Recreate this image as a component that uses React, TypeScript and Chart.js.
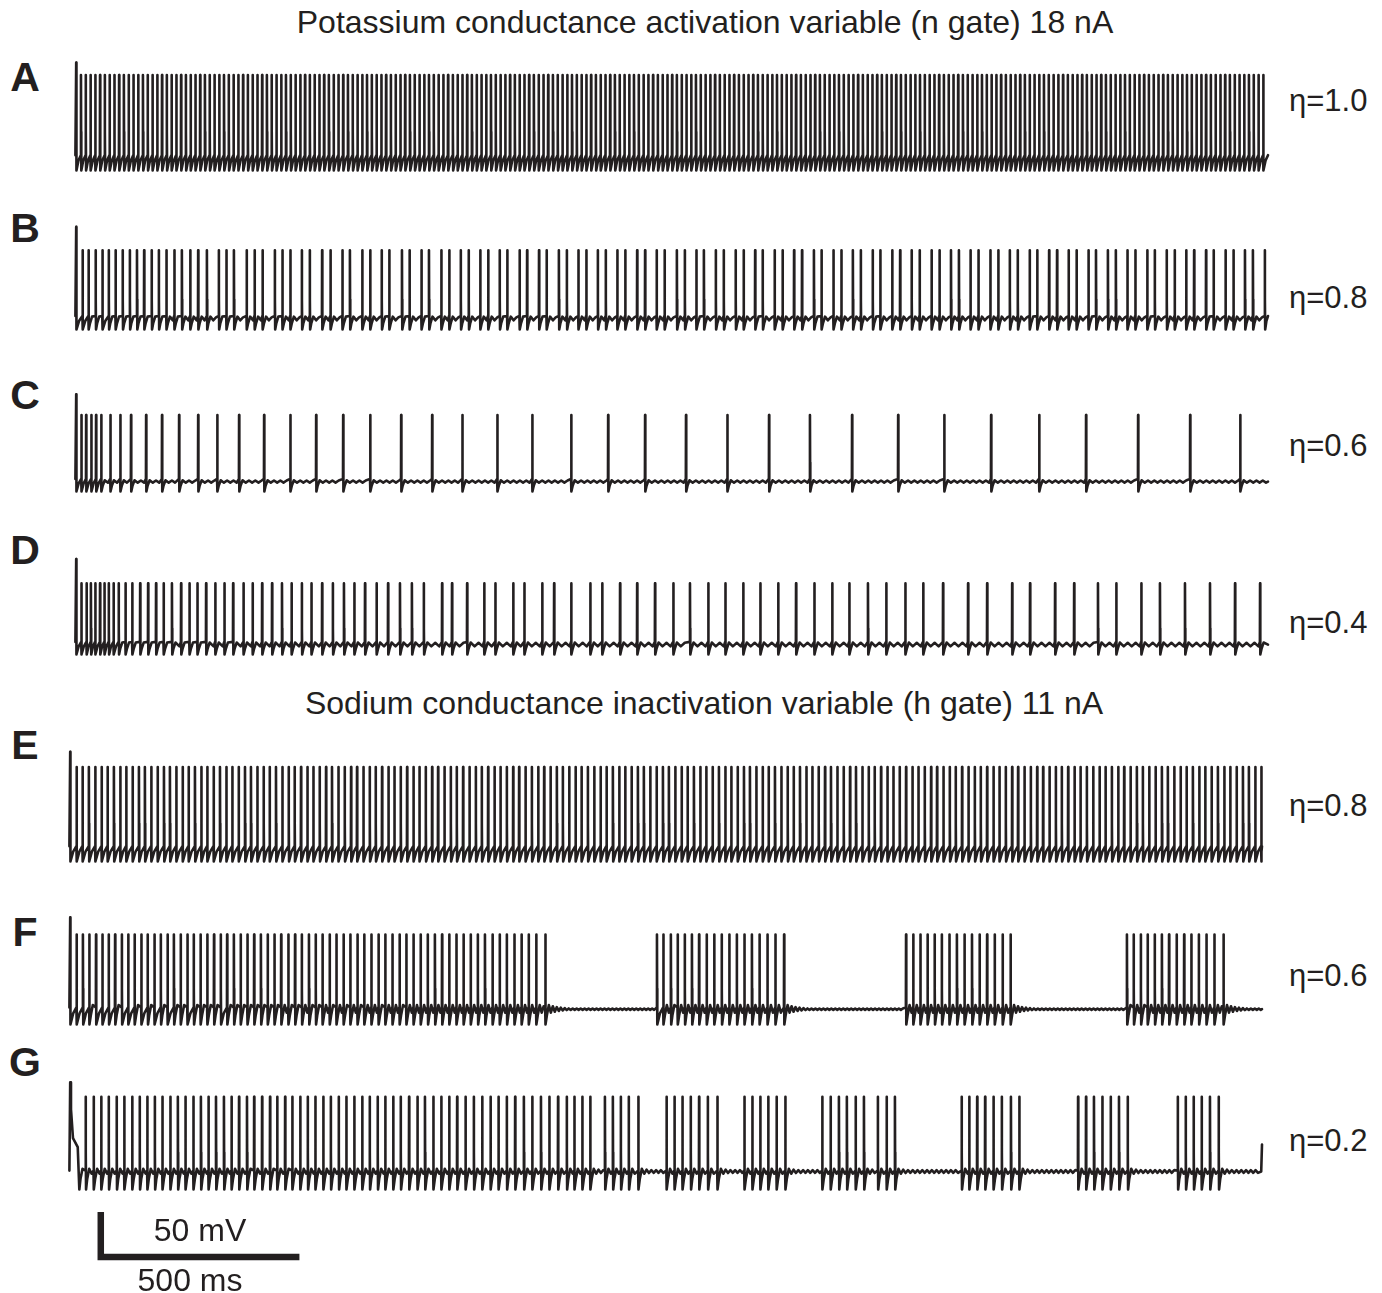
import React, { useEffect, useRef } from "react";
import { Chart, registerables } from "chart.js";

Chart.register(...registerables);

// ---------------- DATA (spike times in ms, voltages in mV) ----------------
const spikesA = [
  0,12,24,36,48,60,72,84,96,108,120,132,144,156,168,180,192,204,216,228,
  240,252,264,276,288,300,312,324,336,348,360,372,384,396,408,420,432,444,456,468,
  480,492,504,516,528,540,552,564,576,588,600,612,624,636,648,660,672,684,696,708,
  720,732,744,756,768,780,792,804,816,828,840,852,864,876,888,900,912,924,936,948,
  960,972,984,996,1008,1020,1032,1044,1056,1068,1080,1092,1104,1116,1128,1140,1152,1164,1176,1188,
  1200,1212,1224,1236,1248,1260,1272,1284,1296,1308,1320,1332,1344,1356,1368,1380,1392,1404,1416,1428,
  1440,1452,1464,1476,1488,1500,1512,1524,1536,1548,1560,1572,1584,1596,1608,1620,1632,1644,1656,1668,
  1680,1692,1704,1716,1728,1740,1752,1764,1776,1788,1800,1812,1824,1836,1848,1860,1872,1884,1896,1908,
  1920,1932,1944,1956,1968,1980,1992,2004,2016,2028,2040,2052,2064,2076,2088,2100,2112,2124,2136,2148,
  2160,2172,2184,2196,2208,2220,2232,2244,2256,2268,2280,2292,2304,2316,2328,2340,2352,2364,2376,2388,
  2400,2412,2424,2436,2448,2460,2472,2484,2496,2508,2520,2532,2544,2556,2568,2580,2592,2604,2616,2628,
  2640,2652,2664,2676,2688,2700,2712,2724,2736,2748,2760,2772,2784,2796,2808,2820,2832,2844,2856,2868,
  2880,2892,2904,2916,2928,2940,2952,2964,2976,2988,
];

const spikesB = [
  0,16,31,49,66,82,99,117,135,153,171,190,208,227,247,266,287,307,329,
  359,378,397,429,449,469,500,519,539,568,588,619,640,670,689,720,740,769,788,
  820,839,869,888,919,939,968,988,1017,1037,1066,1085,1116,1135,1165,1184,1215,1235,
  1264,1284,1313,1333,1362,1382,1412,1432,1461,1481,1512,1532,1561,1580,1610,1630,
  1660,1680,1709,1728,1758,1778,1807,1827,1857,1876,1906,1926,1955,1975,2005,2024,
  2054,2074,2103,2123,2153,2173,2202,2222,2251,2271,2301,2321,2350,2370,2400,2419,
  2449,2469,2498,2518,2548,2567,2597,2617,2646,2666,2696,2715,2745,2765,2794,2814,
  2844,2863,2893,2913,2942,2962,2992,
];

const spikesC = [
  0,13,25,38,50,63,86,111,138,176,216,259,307,355,410,473,539,604,672,740,
  818,896,972,1060,1148,1246,1339,1432,1535,1639,1744,1847,1953,2069,2185,2303,
  2424,2542,2673,2804,2930,
];

const spikesD = [
  0,13,26,37,48,60,71,82,94,107,124,141,161,181,201,220,241,264,285,305,
  327,350,373,395,421,444,468,493,518,542,568,592,619,646,674,700,727,756,785,815,
  845,875,921,946,984,1027,1055,1100,1128,1173,1203,1246,1294,1324,1369,1412,1457,
  1503,1545,1591,1634,1679,1722,1767,1812,1858,1903,1946,1993,2039,2087,2132,2182,
  2245,2293,2356,2401,2464,2512,2572,2618,2681,2728,2791,2854,2917,2980,
];

const spikesE = [
  0,16,31,47,63,79,94,110,126,141,157,173,188,204,220,236,251,267,283,298,
  314,330,345,361,377,393,408,424,440,455,471,487,502,518,534,550,565,581,597,612,
  628,644,659,675,691,707,722,738,754,769,785,801,816,832,848,864,879,895,911,926,
  942,958,973,989,1005,1021,1036,1052,1068,1083,1099,1115,1130,1146,1162,1178,1193,1209,1225,1240,
  1256,1272,1287,1303,1319,1335,1350,1366,1382,1397,1413,1429,1444,1460,1476,1492,1507,1523,1539,1554,
  1570,1586,1601,1617,1633,1649,1664,1680,1696,1711,1727,1743,1758,1774,1790,1806,1821,1837,1853,1868,
  1884,1900,1915,1931,1947,1963,1978,1994,2010,2025,2041,2057,2072,2088,2104,2120,2135,2151,2167,2182,
  2198,2214,2229,2245,2261,2277,2292,2308,2324,2339,2355,2371,2386,2402,2418,2434,2449,2465,2481,2496,
  2512,2528,2543,2559,2575,2591,2606,2622,2638,2653,2669,2685,2700,2716,2732,2748,2763,2779,2795,2810,
  2826,2842,2857,2873,2889,2905,2920,2936,2952,2967,2983,2998,
];

const spikesF = [
  0,16,32,48,65,81,97,113,130,146,162,179,195,212,228,245,261,278,295,311,
  328,345,362,379,395,412,429,446,463,480,497,514,531,549,566,583,601,618,635,653,
  670,688,705,723,740,758,776,793,811,829,846,864,882,900,918,936,954,972,990,1008,
  1026,1044,1063,1081,1099,1118,1136,1154,1173,1196,
  1477,1493,1512,1529,1547,1565,1583,1602,1621,1640,1659,1678,1697,1716,1735,1755,1775,1797,
  2104,2122,2140,2158,2176,2194,2213,2232,2251,2270,2289,2308,2327,2347,2367,
  2660,2677,2695,2712,2730,2748,2766,2785,2804,2822,2841,2860,2880,2903,
];

const spikesG = [
  0,39,59,78,97,117,136,156,175,194,213,232,252,271,290,310,329,348,367,387,
  406,425,445,463,483,503,521,541,559,579,598,617,637,656,676,695,715,735,754,774,
  793,813,832,853,874,893,914,934,954,974,995,1016,1037,1058,1078,1099,1120,1142,1163,1185,
  1206,1228,1250,1269,1289,1309,
  1346,1366,1386,1406,1430,
  1501,1521,1541,1562,1583,1605,1629,
  1697,1717,1737,1757,1778,1800,
  1893,1914,1935,1955,1977,1998,2033,2055,2076,
  2244,2263,2283,2303,2324,2345,2368,2389,
  2537,2557,2577,2598,2619,2640,2662,
  2788,2808,2828,2848,2869,2891,
];

const spikeTrains = [spikesA, spikesB, spikesC, spikesD, spikesE, spikesF, spikesG];

const panelLetters = ["A", "B", "C", "D", "E", "F", "G"];
const etaLabels = ["η=1.0", "η=0.8", "η=0.6", "η=0.4", "η=0.8", "η=0.6", "η=0.2"];
const titleTop = "Potassium conductance activation variable (n gate) 18 nA";
const titleBottom = "Sodium conductance inactivation variable (h gate) 11 nA";

const peakMv = [31, 13, 10, 4, 30, 25, 28];
const firstPeakMv = [45, 39, 33, 31, 47, 44, 44];
const troughMv = [-75, -75, -75, -75, -75, -75, -75];
const restMv = [-62, -63, -64, -64, -62, -58, -55];
const takeoffMv = [-58, -60, -61, -61, -58, -56, -54];
const bumpMv = [3, 3, 2, 3, 3, 6, 4];
const rippleMv = [0.5, 1, 1.2, 2, 0.5, 0.8, 1.5];
const rippleHalfMs = [6, 7, 8, 10, 6, 5, 6];

// G: first spike with its slow shoulder, and the final upstroke at the end
const gFirstT = [2, 7, 19, 23];
const gFirstV = [14, -18, -28, -75];
const gTailT = [2998, 3000];
const gTailV = [-55, -25];

// scale bar: 500 ms x 50 mV
const scaleBarT = [77, 77, 577];
const scaleBarV = [-100, -150, -150];
const scaleLabelMv = "50 mV";
const scaleLabelMs = "500 ms";

// ---------------- LAYOUT ----------------
const INK = "#231f20";
const FONT = "'Liberation Sans', Arial, Helvetica, sans-serif";
const T_MIN = -3;
const T_MAX = 3000;
const V_MAX = 60;
const V_MIN = -90;
const V_MIN_G = -160;
const K = 1192 / 3000; // px per ms
const MV = 0.9; // px per mV
const PAD = 8;
const originPx = [76, 76, 76, 76, 70, 70, 70];
const troughPx = [170, 329, 491, 654, 861, 1024, 1189];
const letterY = [77, 228, 395, 550, 745, 932, 1062];
const etaY = [100, 297, 445, 622, 805, 975, 1140];

type Pt = { x: number; y: number };

function buildTrace(i: number): Pt[] {
  const s = spikeTrains[i];
  const peak = peakMv[i];
  const trough = troughMv[i];
  const rest = restMv[i];
  const take = takeoffMv[i];
  const bump = bumpMv[i];
  const rip = rippleMv[i];
  const half = rippleHalfMs[i];
  const hasTail = i === 6;
  const pts: Pt[] = [{ x: -2, y: take }];

  const recovery = (t0: number, t1: number, atEnd: boolean) => {
    const gap = t1 - t0;
    if (gap < 15) {
      pts.push({ x: t0 + gap * 0.45, y: trough + (take - trough) * 0.65 });
      if (atEnd) pts.push({ x: t1, y: take });
      return;
    }
    pts.push({ x: t0 + 3, y: trough + (rest - trough) * 0.6 });
    let t = t0 + 8;
    let sign = 1;
    while (t < t1 - 3) {
      const amp = Math.max(rip, bump * Math.exp(-(t - t0) / 30));
      pts.push({ x: t, y: rest + sign * amp });
      sign = -sign;
      t += half;
    }
    if (atEnd) pts.push({ x: t1, y: rest });
  };

  for (let k = 0; k < s.length; k++) {
    const ts = s[k];
    const isLast = k === s.length - 1;
    const next = isLast ? (hasTail ? gTailT[0] : T_MAX) : s[k + 1] - 0.4;
    const pk = k === 0 ? firstPeakMv[i] : peak;
    if (k > 0) pts.push({ x: ts - 0.4, y: take });
    pts.push({ x: ts, y: pk });
    let t0: number;
    if (k === 0 && i === 6) {
      gFirstT.forEach((dt, j) => pts.push({ x: ts + dt, y: gFirstV[j] }));
      t0 = ts + gFirstT[gFirstT.length - 1];
    } else {
      pts.push({ x: ts + 0.4, y: (pk + trough) / 2 - 10 });
      pts.push({ x: ts + 0.9, y: trough });
      t0 = ts + 0.9;
    }
    if (next > t0) recovery(t0, next, isLast);
  }
  if (hasTail) gTailT.forEach((t, j) => pts.push({ x: t, y: gTailV[j] }));
  return pts;
}

function TracePanel({ index }: { index: number }) {
  const ref = useRef<HTMLCanvasElement>(null);
  const vMin = index === 6 ? V_MIN_G : V_MIN;
  const areaW = (T_MAX - T_MIN) * K;
  const areaH = (V_MAX - vMin) * MV;
  const w = Math.round(areaW + 2 * PAD);
  const h = Math.round(areaH + 2 * PAD);
  const left = Math.round(originPx[index] + T_MIN * K - PAD);
  const top = Math.round(troughPx[index] - (V_MAX - troughMv[index]) * MV - PAD);

  useEffect(() => {
    const datasets: any[] = [
      {
        data: buildTrace(index),
        borderColor: INK,
        borderWidth: 2.6,
        pointRadius: 0,
        tension: 0,
        clip: false,
        borderJoinStyle: "round",
        borderCapStyle: "round",
      },
    ];
    if (index === 6) {
      datasets.push({
        data: scaleBarT.map((t, j) => ({ x: t, y: scaleBarV[j] })),
        borderColor: INK,
        borderWidth: 6.5,
        pointRadius: 0,
        tension: 0,
        clip: false,
        borderJoinStyle: "miter",
        borderCapStyle: "butt",
      });
    }
    const chart = new Chart(ref.current as HTMLCanvasElement, {
      type: "line",
      data: { datasets },
      options: {
        responsive: false,
        maintainAspectRatio: false,
        animation: false,
        events: [],
        layout: { padding: PAD },
        scales: {
          x: { type: "linear", min: T_MIN, max: T_MAX, display: false },
          y: { type: "linear", min: vMin, max: V_MAX, display: false },
        },
        plugins: { legend: { display: false }, tooltip: { enabled: false } },
      },
    });
    return () => chart.destroy();
  }, [index, vMin]);

  return (
    <canvas
      ref={ref}
      width={w}
      height={h}
      style={{ position: "absolute", left, top, width: w, height: h, display: "block" }}
    />
  );
}

const textBase: React.CSSProperties = {
  position: "absolute",
  fontFamily: FONT,
  color: INK,
  lineHeight: 1,
  whiteSpace: "nowrap",
};

export default function App() {
  return (
    <div
      style={{
        position: "absolute",
        left: 0,
        top: 0,
        width: 1382,
        height: 1293,
        background: "#ffffff",
        overflow: "hidden",
      }}
    >
      {panelLetters.map((_, i) => (
        <TracePanel key={i} index={i} />
      ))}
      <div style={{ ...textBase, left: 705, top: 22, fontSize: 32, transform: "translate(-50%, -50%)" }}>
        {titleTop}
      </div>
      <div style={{ ...textBase, left: 704, top: 703, fontSize: 32, transform: "translate(-50%, -50%)" }}>
        {titleBottom}
      </div>
      {panelLetters.map((l, i) => (
        <div
          key={"l" + i}
          style={{ ...textBase, left: 25, top: letterY[i], fontSize: 41, fontWeight: 700, transform: "translate(-50%, -50%)" }}
        >
          {l}
        </div>
      ))}
      {etaLabels.map((l, i) => (
        <div
          key={"e" + i}
          style={{ ...textBase, left: 1289, top: etaY[i], fontSize: 31, transform: "translate(0, -50%)" }}
        >
          {l}
        </div>
      ))}
      <div style={{ ...textBase, left: 200, top: 1230, fontSize: 32, transform: "translate(-50%, -50%)" }}>
        {scaleLabelMv}
      </div>
      <div style={{ ...textBase, left: 190, top: 1280, fontSize: 32, transform: "translate(-50%, -50%)" }}>
        {scaleLabelMs}
      </div>
    </div>
  );
}
